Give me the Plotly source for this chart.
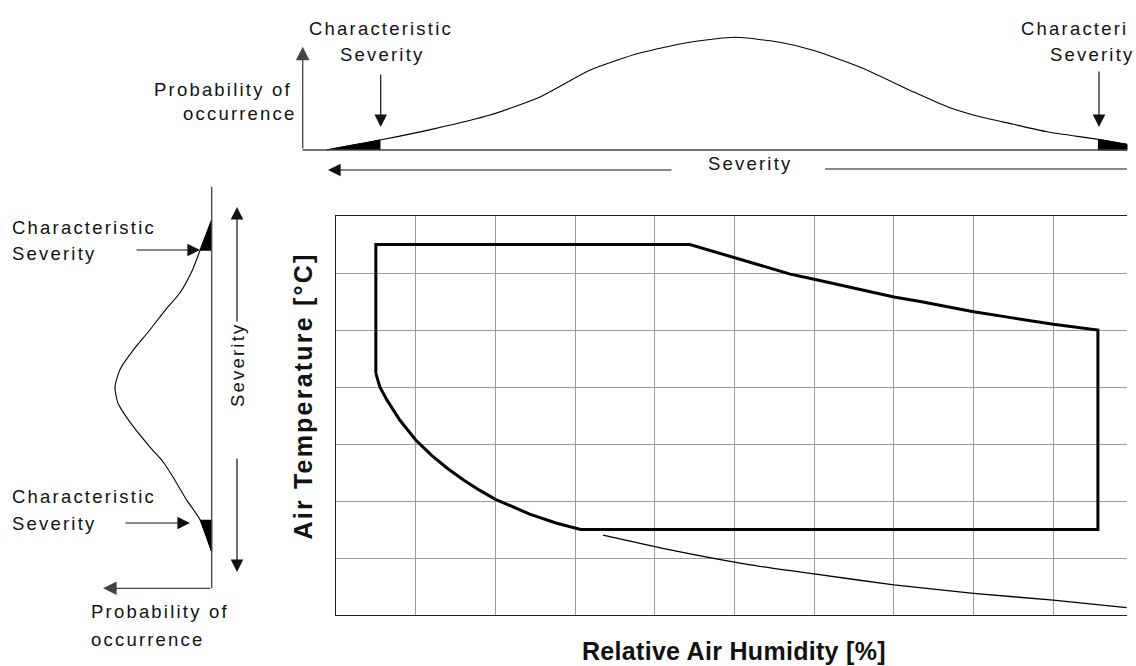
import plotly.graph_objects as go

W, H = 1136, 666

# ---------------- data (main chart, grid units) ----------------
hum_grid = list(range(0, 10))
temp_grid = list(range(0, 8))

envelope_hum = [0.5, 0.5, 4.44, 5.07, 5.70, 6.0, 7.0, 7.33, 8.0, 8.41, 9.0, 9.56,
                9.56, 3.07, 2.77, 2.43, 2.0, 1.8, 1.6, 1.4, 1.2, 1.0, 0.80, 0.64, 0.55, 0.5]
envelope_temp = [4.24, 6.5, 6.5, 6.24, 5.98, 5.89, 5.58, 5.50, 5.32, 5.23, 5.10, 5.0,
                 1.5, 1.5, 1.61, 1.77, 2.03, 2.19, 2.37, 2.57, 2.80, 3.07, 3.42, 3.77, 4.0, 4.24]

lower_hum = [3.35, 4.10, 5.2, 6.0, 7.0, 8.0, 9.0, 9.92]
lower_temp = [1.40, 1.17, 0.88, 0.72, 0.53, 0.38, 0.26, 0.13]

# top distribution: severity (humidity-axis units) vs relative probability
top_sev = [-0.117, 0.552, 1.242, 1.932, 2.56, 3.19, 3.81, 4.44, 5.006, 5.57,
           5.985, 6.61, 7.24, 7.67, 8.08, 8.49, 8.92, 9.56, 9.925]
top_prob = [0.0, 0.088, 0.19, 0.31, 0.47, 0.71, 0.86, 0.956, 1.0, 0.956,
            0.885, 0.726, 0.517, 0.384, 0.295, 0.23, 0.162, 0.095, 0.05]

# left distribution: severity (temperature-axis units) vs relative probability
left_sev = [6.93, 6.40, 6.05, 5.65, 5.35, 5.0, 4.65, 4.30, 4.0, 3.72, 3.42,
            2.95, 2.68, 2.42, 2.02, 1.67, 1.11]
left_prob = [0.0, 0.12, 0.20, 0.33, 0.48, 0.64, 0.81, 0.95, 1.0, 0.97, 0.86,
             0.64, 0.50, 0.40, 0.26, 0.12, 0.0]

# ---------------- layout helpers ----------------
def px(x):
    return x / W

def py(y):
    return 1 - y / H

FONT = "Liberation Sans, Arial, Helvetica, sans-serif"
INK = "#111111"
AXC = "#444444"

main_left, main_right, main_top, main_bottom = 336, 1127, 216, 615
x_range = [0, 9.925]
y_range = [0, 7]
u_per_px = (x_range[1] - x_range[0]) / (main_right - main_left)

fig = go.Figure()

# main envelope
fig.add_trace(go.Scatter(x=envelope_hum, y=envelope_temp, mode="lines",
                         line=dict(color="black", width=3), xaxis="x", yaxis="y",
                         hoverinfo="skip"))
fig.add_trace(go.Scatter(x=lower_hum, y=lower_temp, mode="lines",
                         line=dict(color="black", width=1.3, shape="spline", smoothing=0.5),
                         xaxis="x", yaxis="y", hoverinfo="skip"))

# top distribution
i_l, i_r = 1, 17
fig.add_trace(go.Scatter(x=top_sev[:i_l + 1] + [top_sev[i_l]],
                         y=top_prob[:i_l + 1] + [0], fill="toself",
                         fillcolor="black", line=dict(color="black", width=1),
                         mode="lines", xaxis="x2", yaxis="y3", hoverinfo="skip"))
fig.add_trace(go.Scatter(x=top_sev[i_r:] + [top_sev[-1], top_sev[i_r]],
                         y=top_prob[i_r:] + [0, 0], fill="toself",
                         fillcolor="black", line=dict(color="black", width=1),
                         mode="lines", xaxis="x2", yaxis="y3", hoverinfo="skip"))
fig.add_trace(go.Scatter(x=top_sev, y=top_prob, mode="lines",
                         line=dict(color="black", width=1.1, shape="spline", smoothing=0.6),
                         xaxis="x2", yaxis="y3", hoverinfo="skip"))

# left distribution
j_u, j_l = 1, 15
fig.add_trace(go.Scatter(x=left_prob[:j_u + 1] + [0], y=left_sev[:j_u + 1] + [left_sev[j_u]],
                         fill="toself", fillcolor="black", line=dict(color="black", width=1),
                         mode="lines", xaxis="x3", yaxis="y4", hoverinfo="skip"))
fig.add_trace(go.Scatter(x=left_prob[j_l:] + [0], y=left_sev[j_l:] + [left_sev[j_l]],
                         fill="toself", fillcolor="black", line=dict(color="black", width=1),
                         mode="lines", xaxis="x3", yaxis="y4", hoverinfo="skip"))
fig.add_trace(go.Scatter(x=left_prob, y=left_sev, mode="lines",
                         line=dict(color="black", width=1.1, shape="spline", smoothing=0.6),
                         xaxis="x3", yaxis="y4", hoverinfo="skip"))

# ---------------- shapes (plain lines) ----------------
shapes = []
def seg(x0, y0, x1, y1, color=AXC, width=1.3):
    shapes.append(dict(type="line", xref="paper", yref="paper",
                       x0=px(x0), y0=py(y0), x1=px(x1), y1=py(y1),
                       line=dict(color=color, width=width)))

seg(302.7, 150, 1127, 150)            # top baseline
seg(825, 169, 1127, 169, INK, 1.1)    # severity line (right part)
seg(211.7, 186.7, 211.7, 588.3)       # left vertical axis

# ---------------- arrows ----------------
annotations = []
def arrow(tipx, tipy, tailx, taily, color=INK, width=1.2):
    annotations.append(dict(x=px(tipx), y=py(tipy), xref="paper", yref="paper",
                            ax=tailx - tipx, ay=taily - tipy, axref="pixel", ayref="pixel",
                            text="", showarrow=True, arrowhead=2, arrowsize=2.1,
                            arrowwidth=width, arrowcolor=color, standoff=0))

arrow(302.7, 46.7, 302.7, 150, AXC, 1.3)
arrow(380.7, 127, 380.7, 73)
arrow(1099, 127, 1099, 70)
arrow(328, 170, 673, 170)
arrow(200, 250, 135, 250)
arrow(190, 523, 124, 523)
arrow(237, 207, 237, 323)
arrow(237, 572, 237, 457)
arrow(103, 588.3, 211.7, 588.3, AXC, 1.3)

# ---------------- texts ----------------
LS = 2.2
FS = 18.5
def label(txt, x, y, anchor="center", angle=0, size=FS, spacing=LS, bold=False):
    t = txt
    if spacing:
        t = '<span style="letter-spacing:%.1fpx">%s</span>' % (spacing, t)
    if bold:
        t = "<b>" + t + "</b>"
    annotations.append(dict(x=px(x), y=py(y), xref="paper", yref="paper", text=t,
                            showarrow=False, xanchor=anchor, yanchor="middle",
                            textangle=angle, font=dict(family=FONT, size=size, color=INK)))

label("Characteristic", 381, 28.5)
label("Severity", 381.5, 54.5)
label("Characteri", 1019, 28.5, anchor="left")
label("Severity", 1092, 54.5)
label("Probability of", 223, 89.5)
label("occurrence", 240, 113.5)
label("Severity", 749.5, 163.5)
label("Characteristic", 10, 227.5, anchor="left")
label("Severity", 10, 253.5, anchor="left")
label("Characteristic", 10, 496, anchor="left")
label("Severity", 10, 523.5, anchor="left")
label("Probability of", 89, 611.5, anchor="left")
label("occurrence", 89, 639.5, anchor="left")
label("Severity", 237, 365, angle=-90)

label("Relative Air Humidity [%]", 733.5, 651, size=25, spacing=0.3, bold=True)
label("Air Temperature [°C]", 302, 396.5, angle=-90, size=25, spacing=2.2, bold=True)

# ---------------- axes ----------------
GRID = "#9c9c9c"
fig.update_layout(
    width=W, height=H,
    margin=dict(l=0, r=0, t=0, b=0),
    paper_bgcolor="white", plot_bgcolor="white",
    showlegend=False,
    xaxis=dict(domain=[px(main_left), px(main_right)], range=x_range,
               tick0=0, dtick=1, showgrid=True, gridcolor=GRID, gridwidth=1,
               showline=True, linecolor="#222222", linewidth=1.2, mirror=True,
               ticks="", showticklabels=False, zeroline=False, anchor="y"),
    yaxis=dict(domain=[py(main_bottom), py(main_top)], range=y_range,
               tick0=0, dtick=1, showgrid=True, gridcolor=GRID, gridwidth=1,
               showline=True, linecolor="#222222", linewidth=1.2, mirror=False,
               ticks="", showticklabels=False, zeroline=False, anchor="x"),
    xaxis2=dict(domain=[0, 1], range=[x_range[0] - main_left * u_per_px,
                                      x_range[0] + (W - main_left) * u_per_px],
                visible=False, anchor="y3"),
    yaxis3=dict(domain=[py(155), py(30)],
                range=[-5 / 112.7, 120 / 112.7], visible=False, anchor="x2"),
    xaxis3=dict(domain=[px(100), px(220)],
                range=[(211.7 - 100) / 96.7, (211.7 - 220) / 96.7],
                visible=False, anchor="y4"),
    yaxis4=dict(domain=[py(main_bottom), py(main_top)], range=y_range,
                visible=False, anchor="x3"),
    shapes=shapes,
    annotations=annotations,
)

fig.write_html("out.html", config={"displayModeBar": False, "staticPlot": True},
               post_script="document.body.style.margin='0px';")
